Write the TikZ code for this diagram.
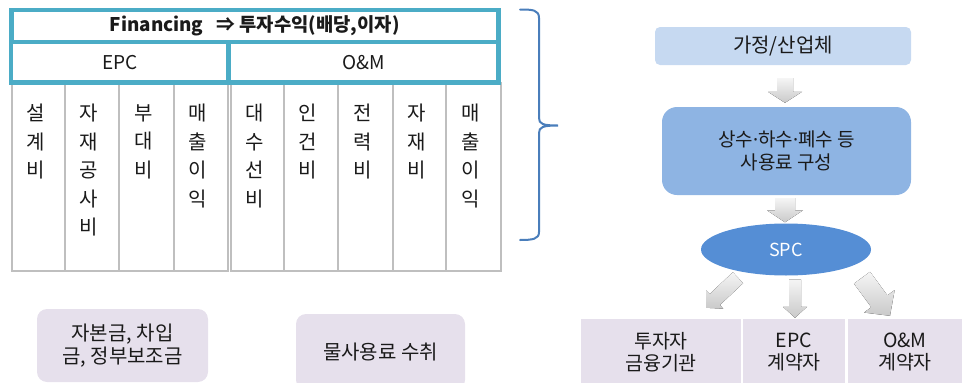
\documentclass[tikz,border=0pt]{standalone}
\usepackage{fontspec}
\setmainfont{Noto Sans CJK KR}
\newfontfamily\latinf{Noto Sans}
\usetikzlibrary{calc,shapes.geometric}
\definecolor{teal1}{HTML}{4BACC6}
\definecolor{gline}{HTML}{BFBFBF}
\definecolor{bracec}{HTML}{4A7EBB}
\definecolor{lblue}{HTML}{C6D9F1}
\definecolor{mblue}{HTML}{8EB4E3}
\definecolor{spcblue}{HTML}{558ED5}
\definecolor{lav}{HTML}{E6E0EC}
\definecolor{txt}{HTML}{1A1A1A}
% start, end, shaft half width, head half width, head length
\newcommand{\blockarrow}[5]{%
  \coordinate (bS) at #1;
  \coordinate (bE) at #2;
  \coordinate (bH) at ($(bE)!#5!(bS)$);
  \fill[garrow] ($(bS)!#3!90:(bE)$) -- ($(bH)!#3!-90:(bS)$) -- ($(bH)!#4!-90:(bS)$)
    -- (bE) -- ($(bH)!#4!90:(bS)$) -- ($(bH)!#3!90:(bS)$) -- ($(bS)!#3!-90:(bE)$) -- cycle;
}
\newcommand{\mdot}{{\latinf ·}}
\begin{document}
\begin{tikzpicture}[x=1pt,y=-1pt,
  every node/.style={text=txt},
  colbox/.style={draw=gline, line width=1.8pt, anchor=north west, minimum height=188pt, inner sep=0pt},
  coltext/.style={anchor=north, align=center, inner sep=0pt, font=\fontsize{20}{28.5}\selectfont},
  frame/.style={draw=teal1, line width=4.5pt, inner sep=0pt, fill=white},
  garrow/.style={top color=gray!8, bottom color=gray!42},
  lavbox/.style={fill=lav, inner sep=0pt, align=center},
  bracepath/.style={draw=bracec, line width=2pt, line cap=round}
]
\useasboundingbox (0,0) rectangle (962,383);

% ---- columns
\node[colbox, minimum width=53pt] (c1) at (11,82) {};
\node[colbox, minimum width=54pt] (c2) at (64,82) {};
\node[colbox, minimum width=55pt] (c3) at (118,82) {};
\node[colbox, minimum width=54pt] (c4) at (173,82) {};
\node[colbox, minimum width=53pt] (c5) at (230,82) {};
\node[colbox, minimum width=54pt] (c6) at (283,82) {};
\node[colbox, minimum width=55pt] (c7) at (337,82) {};
\node[colbox, minimum width=53pt] (c8) at (392,82) {};
\node[colbox, minimum width=55pt] (c9) at (445,82) {};

\node[coltext] (t1) at ($(c1.north)+(-3,22)$) {설\\계\\비};
\node[coltext] (t2) at ($(c2.north)+(-3,22)$) {자\\재\\공\\사\\비};
\node[coltext] (t3) at ($(c3.north)+(-3,22)$) {부\\대\\비};
\node[coltext] (t4) at ($(c4.north)+(-3,22)$) {매\\출\\이\\익};
\node[coltext] (t5) at ($(c5.north)+(-3,22)$) {대\\수\\선\\비};
\node[coltext] (t6) at ($(c6.north)+(-3,22)$) {인\\건\\비};
\node[coltext] (t7) at ($(c7.north)+(-3,22)$) {전\\력\\비};
\node[coltext] (t8) at ($(c8.north)+(-3,22)$) {자\\재\\비};
\node[coltext] (t9) at ($(c9.north)+(-3,22)$) {매\\출\\이\\익};

% ---- teal frame
\node[frame, minimum width=487pt, minimum height=32pt, font=\fontsize{18.8}{20}\selectfont\bfseries] (fin) at (254.75,26) {Financing\ \ \ ⇒ 투자수익(배당,이자)};
\node[frame, minimum width=217.5pt, minimum height=40.5pt, font=\fontsize{19}{20}\selectfont] (epc) at (119.75,62.25) {EPC};
\node[frame, minimum width=270pt, minimum height=40.5pt, font=\fontsize{19}{20}\selectfont] (om) at (363.5,62.25) {O\&M};

% ---- brace
\draw[bracepath] (520,9.5) .. controls (533,9.5) and (539,10) .. (539,18) -- (539,118)
  .. controls (539,124) and (543,125.5) .. (558,125.5)
  .. controls (543,125.5) and (539,127) .. (539,133) -- (539,232)
  .. controls (539,239) and (533,240) .. (520,240);

% ---- right flow
\node[fill=lblue, rounded corners=5pt, minimum width=256pt, minimum height=38pt, inner sep=0pt, font=\fontsize{20}{20}\selectfont] (home) at (783,46) {가정/산업체};
\node[fill=mblue, rounded corners=15pt, minimum width=249pt, minimum height=88pt, inner sep=0pt, align=center, font=\fontsize{19}{23}\selectfont] (fee) at (786.5,151) {상수\mdot 하수\mdot 폐수 등\\사용료 구성};
\node[ellipse, fill=spcblue, minimum width=170pt, minimum height=52pt, inner sep=0pt, text=white, font=\fontsize{18}{20}\selectfont] (spc) at (786,249.5) {SPC};

\node[lavbox, minimum width=160pt, minimum height=66pt, font=\fontsize{19.5}{22}\selectfont] (r1) at (661,352) {투자자\\금융기관};
\node[lavbox, minimum width=102pt, minimum height=66pt, font=\fontsize{19.5}{22}\selectfont] (r2) at (794,352) {EPC\\계약자};
\node[lavbox, minimum width=114pt, minimum height=66pt, font=\fontsize{19.5}{22}\selectfont] (r3) at (905,352) {O\&M\\계약자};

\blockarrow{($(home.south)+(2,13)$)}{($(fee.north)+(-1.5,-4)$)}{8pt}{17pt}{11pt}
\blockarrow{($(fee.south)+(-1.5,3)$)}{($(spc.north)+(-1,-1)$)}{10pt}{18pt}{12pt}
\blockarrow{($(spc.south)+(-48,2)$)}{($(r1.north)+(45,-11)$)}{7.5pt}{12.5pt}{12pt}
\blockarrow{($(spc.south)+(9,4)$)}{($(r2.north)+(1,-1)$)}{6pt}{12pt}{11pt}
\blockarrow{($(spc.south)+(76,2)$)}{($(r3.north)+(-15,-3)$)}{10pt}{19pt}{18pt}

% ---- bottom left
\node[lavbox, rounded corners=10pt, minimum width=171pt, minimum height=73pt, font=\fontsize{20}{23}\selectfont] (cap) at (122.5,345.5) {자본금, 차입\\금, 정부보조금};
\node[lavbox, rounded corners=10pt, minimum width=169pt, minimum height=76pt, font=\fontsize{20}{23}\selectfont] (wat) at (380.5,352) {물사용료 수취};
\end{tikzpicture}
\end{document}
